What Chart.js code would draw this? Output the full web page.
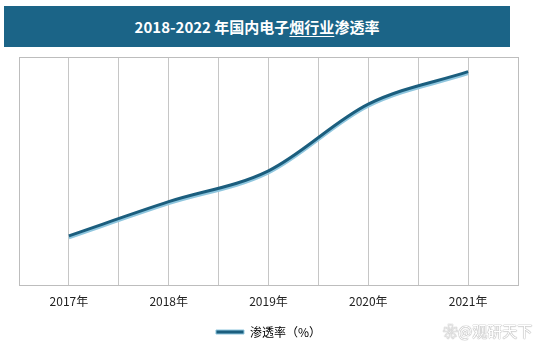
<!DOCTYPE html>
<html><head><meta charset="utf-8">
<script src="https://cdn.jsdelivr.net/npm/chart.js@4/dist/chart.umd.min.js"></script>
<style>
html,body{margin:0;padding:0;background:#fff;}
#wrap{position:relative;width:543px;height:355px;overflow:hidden;font-family:"Noto Sans CJK SC","Noto Sans",sans-serif;}
#title{position:absolute;left:4px;top:6px;width:506px;height:41px;background:#1b6487;color:#fff;font-weight:bold;font-size:15px;line-height:41px;text-align:center;}
#title u{text-decoration-thickness:1px;text-underline-offset:3px;}
#cv{position:absolute;left:0;top:0;}
#wm{position:absolute;left:443px;top:320px;font-size:15px;color:#fff;text-shadow:0 0 1px #aaa,0 0 1px #aaa,0 0 1px #aaa;}
</style></head>
<body><div id="wrap">
<canvas id="cv" width="543" height="355"></canvas>
<div id="title">2018-2022 年国内电子<u>烟行业</u>渗透率</div>
<div id="wm">❀@观研天下</div>
</div>
<script>
const categories = ["2017年","2018年","2019年","2020年","2021年"];
const seriesName = "渗透率（%）";
const values = [3.0, 5.1, 7.0, 11.1, 13.1];
const yMax = 14;

const points = values.map((v,i)=>({x:i,y:v}));
const DARK = '#1b5e7e', LIGHT = '#8fc6de';

const framePlugin = {
  id:'frame',
  beforeDatasetsDraw(chart){
    const {ctx, chartArea:a} = chart;
    ctx.save();
    ctx.strokeStyle = '#bdbdbd'; ctx.lineWidth = 1;
    ctx.strokeRect(Math.round(a.left)+0.5, Math.round(a.top)+0.5, Math.round(a.right-a.left), Math.round(a.bottom-a.top));
    ctx.restore();
  },
  beforeDatasetDraw(chart){
    const ctx = chart.ctx;
    ctx.save();
    ctx.shadowColor = LIGHT; ctx.shadowOffsetY = 2; ctx.shadowOffsetX = 0; ctx.shadowBlur = 0;
  },
  afterDatasetDraw(chart){ chart.ctx.restore(); }
};

new Chart(document.getElementById('cv'), {
  type:'line',
  data:{datasets:[{label:seriesName,data:points,borderColor:DARK,backgroundColor:DARK,borderWidth:3,pointRadius:0,tension:0.4,cubicInterpolationMode:'monotone',fill:false}]},
  options:{
    responsive:false, animation:false, devicePixelRatio:1,
    layout:{padding:{left:19,right:25,top:57,bottom:7}},
    plugins:{
      tooltip:{enabled:false},
      legend:{position:'bottom',labels:{
        font:{family:'"Noto Sans CJK SC",sans-serif',size:12},color:'#333',boxWidth:28,boxHeight:4,padding:7,
        generateLabels:(c)=>[{text:seriesName,fillStyle:DARK,strokeStyle:LIGHT,lineWidth:1,datasetIndex:0}]
      }}
    },
    scales:{
      x:{type:'linear',min:-0.5,max:4.5,
        ticks:{stepSize:0.5,autoSkip:false,padding:10,color:'#222',font:{family:'"Noto Sans CJK SC",sans-serif',size:12},
          callback:(v)=>Number.isInteger(v)?categories[v]:''},
        grid:{color:'#c6c6c6',drawTicks:false},border:{display:false}},
      y:{display:false,min:0,max:yMax}
    }
  },
  plugins:[framePlugin]
});
</script>
</body></html>
